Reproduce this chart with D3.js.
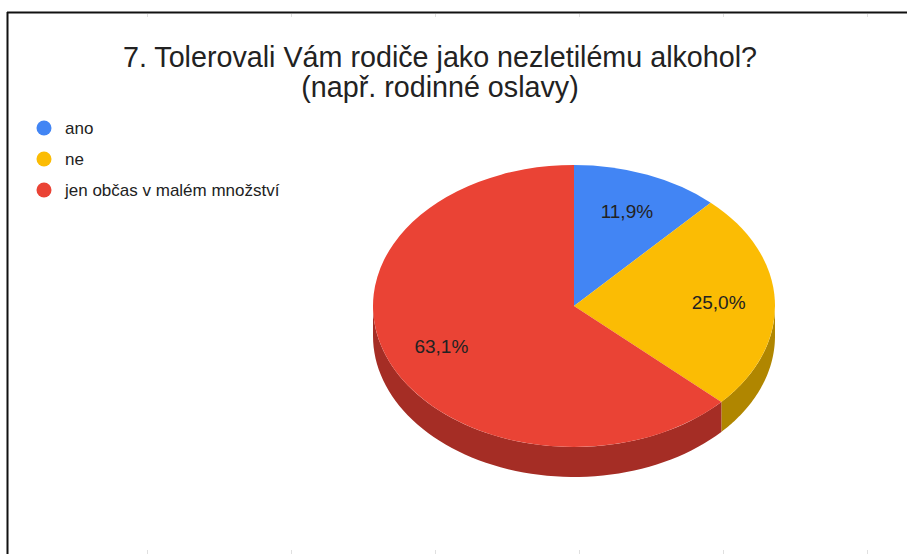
<!DOCTYPE html>
<html>
<head>
<meta charset="utf-8">
<script src="https://cdn.jsdelivr.net/npm/d3@7"></script>
<style>
  body { margin: 0; background: #fff; }
  text { font-family: "Liberation Sans", Arial, sans-serif; fill: #222; }
</style>
</head>
<body>
<script>
// answers to question 7 (counts of respondents)
var categories = ["ano", "ne", "jen občas v malém množství"];
var counts = [10, 21, 53];
var colors = ["#4285f4", "#fbbc04", "#ea4335"];
var sideColors = ["#2c5fae", "#b08600", "#a52d25"];
var titleLines = ["7. Tolerovali Vám rodiče jako nezletilému alkohol?", "(např. rodinné oslavy)"];

var width = 907, height = 554;

// 3D pie geometry
var cx = 574, cy = 306, rx = 201, ry = 141, depth = 30;
var labelPos = 0.72;

var svg = d3.select("body").append("svg")
    .attr("width", width)
    .attr("height", height);

// spreadsheet frame
svg.append("line")
    .attr("x1", 7).attr("x2", width).attr("y1", 12.5).attr("y2", 12.5)
    .attr("stroke", "#111").attr("stroke-width", 2);
svg.append("line")
    .attr("x1", 7.5).attr("x2", 7.5).attr("y1", 12).attr("y2", height)
    .attr("stroke", "#111").attr("stroke-width", 2);

var gridX = d3.range(147, width, 144);
svg.selectAll(".tickTop")
    .data(gridX)
    .enter().append("line")
    .attr("x1", d => d + 0.5).attr("x2", d => d + 0.5)
    .attr("y1", 14).attr("y2", 17)
    .attr("stroke", "#e0e0e0");
svg.selectAll(".tickBottom")
    .data(gridX)
    .enter().append("line")
    .attr("x1", d => d + 0.5).attr("x2", d => d + 0.5)
    .attr("y1", 550).attr("y2", height)
    .attr("stroke", "#e0e0e0");

// title
svg.append("text")
    .attr("x", 440)
    .attr("y", 67)
    .attr("text-anchor", "middle")
    .style("font-size", "28.7px")
    .selectAll("tspan")
    .data(titleLines)
    .enter().append("tspan")
    .attr("x", 440)
    .attr("dy", (d, i) => i === 0 ? 0 : 30)
    .text(d => d);

// legend
var legend = svg.append("g").attr("transform", "translate(44,128)");
var item = legend.selectAll("g")
    .data(categories)
    .enter().append("g")
    .attr("transform", (d, i) => "translate(0," + (i * 31) + ")");
item.append("circle")
    .attr("r", 7.5)
    .attr("fill", (d, i) => colors[i]);
item.append("text")
    .attr("x", 21)
    .attr("dy", "0.35em")
    .style("font-size", "17px")
    .text(d => d);

// pie
var pie = d3.pie().sort(null).value(d => d);
var arcs = pie(counts);
var total = d3.sum(counts);

function ellipsePoint(a, dy) {
    return [cx + rx * Math.sin(a), cy - ry * Math.cos(a) + (dy || 0)];
}

// side walls, only the front half (pi/2 .. 3pi/2) is visible
var line = d3.line();
arcs.forEach(function(d, i) {
    var s = Math.max(d.startAngle, Math.PI / 2),
        e = Math.min(d.endAngle, 3 * Math.PI / 2);
    if (s >= e) return;
    var steps = d3.range(0, 61).map(k => s + (e - s) * k / 60);
    var pts = steps.map(a => ellipsePoint(a, 0))
        .concat(steps.slice().reverse().map(a => ellipsePoint(a, depth)));
    svg.append("path")
        .attr("d", line(pts) + "Z")
        .attr("fill", sideColors[i]);
});

// top faces
var arc = d3.arc().innerRadius(0).outerRadius(rx);
svg.append("g")
    .attr("transform", "translate(" + cx + "," + cy + ") scale(1," + (ry / rx) + ")")
    .selectAll("path")
    .data(arcs)
    .enter().append("path")
    .attr("d", arc)
    .attr("fill", (d, i) => colors[i]);

// percentage labels
var fmt = d3.format(".1f");
svg.selectAll(".slice-label")
    .data(arcs)
    .enter().append("text")
    .attr("class", "slice-label")
    .attr("x", d => cx + labelPos * rx * Math.sin((d.startAngle + d.endAngle) / 2))
    .attr("y", d => cy - labelPos * ry * Math.cos((d.startAngle + d.endAngle) / 2))
    .attr("dy", "0.35em")
    .attr("text-anchor", "middle")
    .style("font-size", "19px")
    .text(d => fmt(d.value / total * 100).replace(".", ",") + "%");
</script>
</body>
</html>
